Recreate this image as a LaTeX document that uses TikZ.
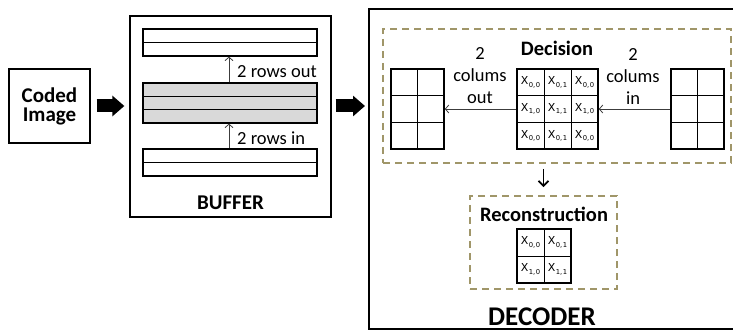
\documentclass[tikz,border=0pt]{standalone}
\usepackage{fontspec}
\setmainfont{Carlito}
\newfontfamily\cellfont{DejaVu Sans}
\usetikzlibrary{arrows.meta,calc}
\definecolor{dashcol}{RGB}{160,150,105}
\definecolor{rowgray}{RGB}{217,217,217}
\definecolor{thincol}{RGB}{60,60,60}
\newcommand{\cx}[2]{{\cellfont\fontsize{11}{11}\selectfont X\kern0.3pt\raisebox{-2.5pt}{\fontsize{6.8}{7}\selectfont #1,\kern0.5pt#2}}}
\begin{document}
\begin{tikzpicture}[x=1pt,y=-1pt,
  box/.style={draw, line width=1.3pt, inner sep=0pt},
  rowbox/.style={draw, line width=1.3pt, minimum width=174pt, inner sep=0pt},
  gline/.style={line width=0.9pt},
  gridouter/.style={draw, line width=1.6pt, inner sep=0pt},
  cell/.style={draw, line width=0.9pt, minimum width=27pt, minimum height=26.67pt, inner sep=0pt},
  rcell/.style={draw, line width=0.9pt, minimum width=27pt, minimum height=27pt, inner sep=0pt},
  dashbox/.style={draw=dashcol, line width=1.7pt, dash pattern=on 7pt off 5pt, inner sep=0pt},
  bigarrow/.style={line width=13pt, -{Triangle[length=12pt,width=20pt]}},
  thinarrow/.style={draw=thincol, line width=0.8pt, -{Straight Barb[length=3.5pt,width=8pt]}},
  downarrow/.style={line width=1.8pt, -{Straight Barb[length=5pt,width=10pt]}},
  boldlbl/.style={font=\bfseries\fontsize{21}{19}\selectfont, align=center, inner sep=0pt},
  lbl/.style={font=\fontsize{18.5}{22}\selectfont, align=center, inner sep=0pt}
]
\useasboundingbox (0,0) rectangle (733,331);

% Coded image
\node[box, minimum width=81pt, minimum height=74pt, boldlbl] (coded) at (49.5,106) {Coded\\Image};

% Buffer
\node[box, minimum width=201pt, minimum height=201pt] (buf) at (230.5,116.5) {};
\node[rowbox, minimum height=27pt] (rtop) at (230,42.5) {};
\draw[gline] (rtop.west) -- (rtop.east);
\node[rowbox, minimum height=40pt, fill=rowgray] (rmid) at (230,103) {};
\draw[gline] ($(rmid.north west)!1/3!(rmid.south west)$) -- ($(rmid.north east)!1/3!(rmid.south east)$);
\draw[gline] ($(rmid.north west)!2/3!(rmid.south west)$) -- ($(rmid.north east)!2/3!(rmid.south east)$);
\node[rowbox, minimum height=27pt] (rbot) at (230,162.5) {};
\draw[gline] (rbot.west) -- (rbot.east);
\draw[thinarrow] ([xshift=-1pt]rmid.north) -- ([xshift=-1pt]rtop.south);
\draw[thinarrow] ([xshift=-1pt]rbot.north) -- ([xshift=-1pt]rmid.south);
\node[lbl, anchor=west] (lout) at (237,72) {2 rows out};
\node[lbl, anchor=west] (lin) at (237,138.5) {2 rows in};
\node[boldlbl, font=\bfseries\fontsize{21}{21}\selectfont] (buflbl) at (230.5,203) {BUFFER};

% Decoder
\coordinate (dtl) at (369,9);
\coordinate (dbl) at (369,329);
\draw[line width=1.3pt] (745,9) -- (dtl) -- (dbl) -- (745,329);
\node[boldlbl, font=\bfseries\fontsize{27}{27}\selectfont] (declbl) at (542,316.5) {DECODER};

% big arrows
\draw[bigarrow] ([xshift=6pt]coded.east) -- ([xshift=-5pt]coded.east -| buf.west);
\draw[bigarrow] ([xshift=4pt]coded.east -| buf.east) -- ([xshift=-4pt]coded.east -| dtl);

% Decision
\node[dashbox, minimum width=348pt, minimum height=134pt] (dec) at (557,96) {};
\node[boldlbl, font=\bfseries\fontsize{20.5}{20}\selectfont] (declabel) at (557,48) {Decision};

% left grid
\node[gridouter, minimum width=53pt, minimum height=80pt] (lg) at (417.5,109) {};
\draw[gline] (lg.north) -- (lg.south);
\draw[gline] ($(lg.north west)!1/3!(lg.south west)$) -- ($(lg.north east)!1/3!(lg.south east)$);
\draw[gline] ($(lg.north west)!2/3!(lg.south west)$) -- ($(lg.north east)!2/3!(lg.south east)$);

% right grid
\node[gridouter, minimum width=53pt, minimum height=80pt] (rg) at (697.5,109) {};
\draw[gline] (rg.north) -- (rg.south);
\draw[gline] ($(rg.north west)!1/3!(rg.south west)$) -- ($(rg.north east)!1/3!(rg.south east)$);
\draw[gline] ($(rg.north west)!2/3!(rg.south west)$) -- ($(rg.north east)!2/3!(rg.south east)$);

% center grid
\node[cell] (c00) at (530.5,82.33) {\cx{0}{0}};
\node[cell] (c01) at (557.5,82.33) {\cx{0}{1}};
\node[cell] (c02) at (584.5,82.33) {\cx{0}{0}};
\node[cell] (c10) at (530.5,109) {\cx{1}{0}};
\node[cell] (c11) at (557.5,109) {\cx{1}{1}};
\node[cell] (c12) at (584.5,109) {\cx{1}{0}};
\node[cell] (c20) at (530.5,135.67) {\cx{0}{0}};
\node[cell] (c21) at (557.5,135.67) {\cx{0}{1}};
\node[cell] (c22) at (584.5,135.67) {\cx{0}{0}};
\node[gridouter, minimum width=81pt, minimum height=80pt] (cg) at (557.5,109) {};

\draw[thinarrow] (rg.west) -- (cg.east);
\draw[thinarrow] (cg.west) -- (lg.east);
\node[lbl] (lcol) at (480,76) {2\\colums\\out};
\node[lbl] (rcol) at (633,76) {2\\colums\\in};

% Reconstruction
\node[dashbox, minimum width=147pt, minimum height=93pt] (rec) at (543.5,242.5) {};
\node[boldlbl, font=\bfseries\fontsize{20.5}{20}\selectfont] (reclabel) at (544,214) {Reconstruction};
\node[rcell] (r00) at (530.5,242.5) {\cx{0}{0}};
\node[rcell] (r01) at (557.5,242.5) {\cx{0}{1}};
\node[rcell] (r10) at (530.5,269.5) {\cx{1}{0}};
\node[rcell] (r11) at (557.5,269.5) {\cx{1}{1}};
\node[gridouter, minimum width=54pt, minimum height=54pt] (rgd) at (544,256) {};

\draw[downarrow] ([yshift=-5pt]rec.north |- dec.south) -- ([yshift=8pt]rec.north);
\end{tikzpicture}
\end{document}
